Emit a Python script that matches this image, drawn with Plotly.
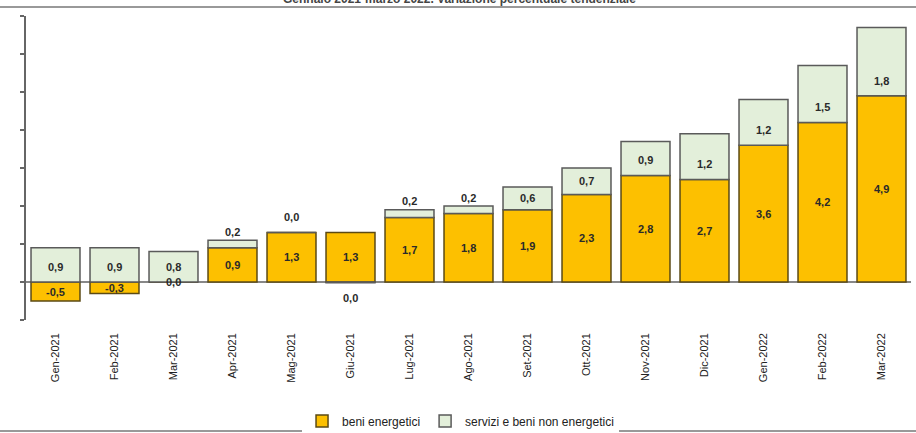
import plotly.graph_objects as go

months = ["Gen-2021", "Feb-2021", "Mar-2021", "Apr-2021", "Mag-2021", "Giu-2021",
          "Lug-2021", "Ago-2021", "Set-2021", "Ott-2021", "Nov-2021", "Dic-2021",
          "Gen-2022", "Feb-2022", "Mar-2022"]
beni_energetici = [-0.5, -0.3, 0.0, 0.9, 1.3, 1.3, 1.7, 1.8, 1.9, 2.3, 2.8, 2.7, 3.6, 4.2, 4.9]
servizi_non_energetici = [0.9, 0.9, 0.8, 0.2, 0.0, -0.02, 0.2, 0.2, 0.6, 0.7, 0.9, 1.2, 1.2, 1.5, 1.8]

title_text = "Gennaio 2021-marzo 2022. Variazione percentuale tendenziale"

GOLD = "#FDC000"
GOLD_LINE = "#5b4a14"
GREEN = "#E3EFDA"
GREEN_LINE = "#5a5a5a"


def fmt(v):
    r = round(v, 1)
    if r == 0:
        r = 0.0
    return f"{r:.1f}".replace(".", ",").replace("-0,0", "0,0")


fig = go.Figure()
fig.add_trace(go.Bar(
    x=months, y=beni_energetici, name="beni energetici",
    marker=dict(color=GOLD, line=dict(color=GOLD_LINE, width=1.5)),
    width=0.83,
))
fig.add_trace(go.Bar(
    x=months, y=servizi_non_energetici, name="servizi e beni non energetici",
    marker=dict(color=GREEN, line=dict(color=GREEN_LINE, width=1.5)),
    width=0.83,
))

lab_font = dict(family="Liberation Sans, Arial, sans-serif", size=11, color="#2a2a2a")
annotations = []
for m, e, s in zip(months, beni_energetici, servizi_non_energetici):
    annotations.append(dict(x=m, y=e / 2, xref="x", yref="y", text=f"<b>{fmt(e)}</b>",
                            showarrow=False, font=lab_font))
    base = max(e, 0)
    if s >= 0.5:
        ys = base + min(s / 2, 0.4)
    elif s > 0.05:
        ys = base + s + 0.22
    elif s >= 0:
        ys = base + 0.42
    else:
        ys = s - 0.4
    annotations.append(dict(x=m, y=ys, xref="x", yref="y", text=f"<b>{fmt(s)}</b>",
                            showarrow=False, font=lab_font))

annotations.append(dict(x=0.49, y=1.056, xref="paper", yref="paper", yanchor="middle",
                        text=f"<b>{title_text}</b>", showarrow=False,
                        font=dict(family="Liberation Sans, Arial, sans-serif", size=12, color="#444")))
fig.update_layout(
    barmode="relative",
    width=916, height=433,
    margin=dict(l=26, r=5, t=16, b=113, autoexpand=False),
    paper_bgcolor="white", plot_bgcolor="white",
    showlegend=True,
    legend=dict(orientation="h", x=0.491, xanchor="center", y=-0.332, yanchor="middle",
                font=dict(family="Liberation Sans, Arial, sans-serif", size=12, color="#222"),
                itemwidth=30, traceorder="normal"),
    annotations=annotations,
    shapes=[
        dict(type="line", xref="paper", yref="paper", x0=-0.03, x1=1.01, y0=1.0296, y1=1.0296,
             line=dict(color="#999", width=2)),
        dict(type="line", xref="paper", yref="paper", x0=-0.03, x1=1.01, y0=-0.365, y1=-0.365,
             line=dict(color="#999", width=2)),
    ],
)
fig.update_yaxes(range=[-1, 7], dtick=1, showticklabels=False, showgrid=False, automargin=False,
                 showline=True, linecolor="#666", linewidth=2, ticks="outside", ticklen=4,
                 tickcolor="#666", tickwidth=1.5,
                 zeroline=True, zerolinecolor="#888", zerolinewidth=1.5)
fig.update_xaxes(showline=False, showgrid=False, ticks="", tickangle=-90, automargin=False,
                 ticklabelstandoff=10,
                 tickfont=dict(family="Liberation Sans, Arial, sans-serif", size=11, color="#222"))

fig.write_html("out.html", config={"displayModeBar": False},
               post_script="document.body.style.margin='0';document.body.style.overflow='hidden';")
